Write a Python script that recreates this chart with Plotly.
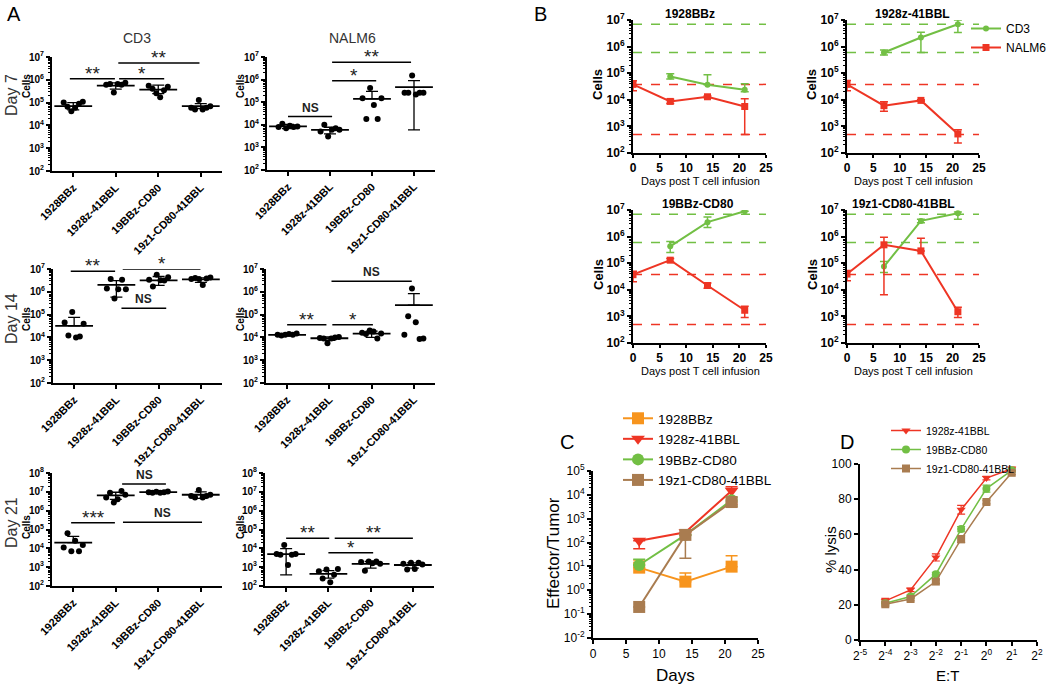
import numpy as np
import plotly.graph_objects as go

W, H = 1050, 689
FONT = "Liberation Sans, Arial, Helvetica, sans-serif"

# ======================= DATA =======================
groups = ["1928BBz", "1928z-41BBL", "19BBz-CD80", "19z1-CD80-41BBL"]

# ---- Panel A: cells per mouse, group mean, SD upper / lower end (None = not drawn)
cd3_d7_pts = [[1.0e5, 6.5e4, 4.2e4, 6.0e4, 9.0e4, 1.1e5],
              [6.0e5, 6.5e5, 2.8e5, 6.5e5, 6.0e5, 7.5e5],
              [5.5e5, 4.0e5, 2.6e5, 1.7e5, 3.5e5, 5.0e5],
              [6.0e4, 5.0e4, 1.3e5, 5.0e4, 6.0e4, 7.0e4]]
cd3_d7_mean = [7.0e4, 5.5e5, 3.7e5, 7.0e4]
cd3_d7_hi = [1.0e5, 7.3e5, 5.8e5, 9.0e4]
cd3_d7_lo = [4.8e4, 3.9e5, 2.5e5, 5.5e4]

nalm6_d7_pts = [[8.0e3, 1.1e4, 7.0e3, 9.0e3, 8.0e3, 8.5e3],
                [5.0e3, 1.0e4, 3.0e3, 6.0e3, 7.0e3, 6.0e3],
                [1.5e5, 1.8e4, 4.2e5, 7.6e4, 1.8e4, 1.5e5],
                [2.6e5, 2.6e5, 1.5e6, 2.2e5, 2.6e5, 2.6e5]]
nalm6_d7_mean = [8.5e3, 6.0e3, 1.4e5, 4.6e5]
nalm6_d7_hi = [1.05e4, 7.8e3, 3.0e5, 9.0e5]
nalm6_d7_lo = [6.8e3, 4.0e3, None, 6.0e3]

cd3_d14_pts = [[4.5e4, 1.2e4, 1.3e5, 1.0e4, 1.1e4, 4.0e4],
               [1.4e6, 3.6e6, 5.1e5, 1.3e6, 3.4e6, 1.3e6],
               [3.4e6, 1.7e6, 5.6e6, 3.2e6, 3.1e6, 4.4e6],
               [3.6e6, 4.0e6, 3.6e6, 2.0e6, 3.8e6, 4.2e6]]
cd3_d14_mean = [3.2e4, 2.0e6, 3.2e6, 3.5e6]
cd3_d14_hi = [7.6e4, 3.1e6, 4.7e6, 4.1e6]
cd3_d14_lo = [None, 5.8e5, 1.9e6, 2.6e6]

nalm6_d14_pts = [[1.3e4, 1.2e4, 1.3e4, 1.4e4, 1.3e4, 1.5e4],
                 [9.5e3, 9.0e3, 5.6e3, 9.0e3, 1.0e4, 1.05e4],
                 [1.6e4, 1.4e4, 2.0e4, 1.8e4, 9.0e3, 1.5e4],
                 [1.3e4, 8.5e4, 1.4e6, 4.6e4, 8.5e3, 9.0e3]]
nalm6_d14_mean = [1.3e4, 9.2e3, 1.45e4, 2.6e5]
nalm6_d14_hi = [1.4e4, 1.05e4, 1.9e4, 8.3e5]
nalm6_d14_lo = [1.2e4, 7.5e3, 1.0e4, None]

cd3_d21_pts = [[1.1e4, 6.3e4, 7.0e3, 2.5e4, 7.0e3, 1.5e4],
               [5.0e6, 9.0e6, 2.7e6, 4.0e6, 1.1e7, 7.0e6],
               [9.5e6, 9.0e6, 1.0e7, 9.0e6, 9.5e6, 1.05e7],
               [6.0e6, 5.0e6, 1.25e7, 5.0e6, 6.0e6, 7.0e6]]
cd3_d21_mean = [2.0e4, 6.5e6, 9.7e6, 7.0e6]
cd3_d21_hi = [4.3e4, 9.5e6, 1.05e7, 1.0e7]
cd3_d21_lo = [None, 4.0e6, 9.0e6, 4.5e6]

nalm6_d21_pts = [[5.0e3, 4.5e3, 1.5e4, 1.3e3, 4.5e3, 5.0e3],
                 [6.0e2, 2.5e2, 7.5e2, 1.6e2, 4.0e2, 8.0e2],
                 [1.9e3, 6.5e2, 2.0e3, 1.6e3, 2.0e3, 1.5e3],
                 [1.5e3, 7.5e2, 1.7e3, 8.0e2, 1.7e3, 1.4e3]]
nalm6_d21_mean = [4.9e3, 4.4e2, 1.5e3, 1.3e3]
nalm6_d21_hi = [9.6e3, 6.5e2, 2.0e3, 1.7e3]
nalm6_d21_lo = [3.9e2, 2.6e2, 9.0e2, 9.0e2]

# significance brackets: (from group, to group, height in cells, label)
sig_cd3_d7 = [(-0.08, 0.98, 1.1e6, "**"), (1.08, 2.14, 1.1e6, "*"), (1.06, 2.97, 5.5e6, "**")]
sig_nalm6_d7 = [(0.0, 1.05, 2.3e4, "NS"), (1.05, 2.1, 8.9e5, "*"), (1.05, 2.93, 5.8e6, "**")]
sig_cd3_d14 = [(-0.08, 0.97, 7.9e6, "**"), (1.15, 2.99, 1.0e7, "*"), (1.12, 2.18, 1.9e5, "NS")]
sig_nalm6_d14 = [(0.0, 0.93, 3.6e4, "**"), (1.07, 2.03, 3.6e4, "*"), (1.05, 2.95, 2.9e6, "NS")]
sig_cd3_d21 = [(-0.05, 0.98, 2.3e5, "***"), (1.15, 2.18, 2.6e7, "NS"), (1.17, 3.03, 2.4e5, "NS")]
sig_nalm6_d21 = [(0.0, 1.02, 3.4e4, "**"), (1.0, 2.06, 5.9e3, "*"), (1.15, 3.0, 3.4e4, "**")]

# ---- Panel B: kinetics
days_b = [0, 7, 14, 21]
days_b_cd3 = [7, 14, 21]
b_titles = ["1928BBz", "1928z-41BBL", "19BBz-CD80", "19z1-CD80-41BBL"]
b_cd3 = [[7.5e4, 3.7e4, 2.4e4], [6.0e5, 2.2e6, 6.9e6], [4.3e5, 3.5e6, 9.0e6], [7.5e4, 3.9e6, 7.5e6]]
b_cd3_hi = [[9.5e4, 8.7e4, 4.0e4], [7.5e5, 3.5e6, 1.0e7], [6.5e5, 5.5e6, 9.0e6], [1.15e5, 4.5e6, 8.5e6]]
b_cd3_lo = [[6.0e4, 3.7e4, 2.0e4], [4.8e5, 6.0e5, 3.4e6], [2.5e5, 2.2e6, 9.0e6], [4.5e4, 3.3e6, 4.5e6]]
b_nalm6 = [[3.8e4, 8.7e3, 1.3e4, 5.6e3], [3.8e4, 6.0e3, 9.5e3, 5.2e2],
           [3.7e4, 1.3e5, 1.45e4, 1.7e3], [3.9e4, 4.9e5, 2.9e5, 1.5e3]]
b_nalm6_hi = [[5.2e4, 1.05e4, 1.4e4, 1.1e4], [5.3e4, 8.5e3, 1.0e4, 7.5e2],
              [5.0e4, 1.5e5, 1.8e4, 2.4e3], [5.3e4, 9.5e5, 8.7e5, 2.2e3]]
b_nalm6_lo = [[2.2e4, 7.2e3, 1.2e4, 5.0e2], [2.2e4, 3.7e3, 8.8e3, 2.4e2],
              [2.0e4, 1.1e5, 1.15e4, 9.0e2], [2.2e4, 6.5e3, 2.9e5, 9.0e2]]
ref_cd3 = [6.9e6, 6.0e5]
ref_nalm6 = [3.8e4, 5.0e2]

# ---- Panel C: effector / tumor ratio
days_c = [7, 14, 21]
c_series = ["1928BBz", "1928z-41BBL", "19BBz-CD80", "19z1-CD80-41BBL"]
c_vals = [[8.9, 2.3, 9.8], [120, 270, 1.5e4], [11.5, 210, 6.0e3], [0.2, 210, 5.0e3]]
c_hi = [[18.6, 5.3, 28], [120, 270, 2.2e4], [20, 210, 8.0e3], [0.2, 210, 5.0e3]]
c_lo = [[8.9, 2.3, 9.8], [55, 270, 4.0e3], [11.5, 210, 3.5e3], [0.2, 22, 3.2e3]]

# ---- Panel D: % lysis vs E:T
et_ratio = [1/16, 1/8, 1/4, 1/2, 1, 2]
d_series = ["1928z-41BBL", "19BBz-CD80", "19z1-CD80-41BBL"]
d_vals = [[22.2, 28.5, 46.9, 74.0, 92.0, 97.3],
          [20.9, 24.7, 37.4, 63.0, 86.0, 96.4],
          [20.3, 23.3, 33.2, 57.3, 78.4, 95.0]]
d_err = [[1.5, 1.0, 2.0, 2.5, 1.0, 1.0],
         [1.0, 1.0, 1.0, 1.5, 2.0, 1.0],
         [1.0, 1.0, 1.0, 2.0, 1.0, 1.0]]

# ======================= STYLE =======================
GREEN = "#72BF44"
RED = "#EE3524"
ORANGE = "#F7941D"
BROWN = "#A97C50"
c_colors = [ORANGE, RED, GREEN, BROWN]
c_symbols = ["square", "triangle-down", "circle", "square"]
d_colors = [RED, GREEN, BROWN]
d_symbols = ["triangle-down", "circle", "square"]

fig = go.Figure()
layout = dict(width=W, height=H, margin=dict(l=0, r=0, t=0, b=0, pad=0, autoexpand=False),
              paper_bgcolor="white", plot_bgcolor="white",
              font=dict(family=FONT, color="black"), annotations=[])


def px(x):
    return x / W


def py(y):
    return 1 - y / H


def names(n):
    return ("x", "y") if n == 1 else (f"x{n}", f"y{n}")


def keys(n):
    return ("xaxis", "yaxis") if n == 1 else (f"xaxis{n}", f"yaxis{n}")


def dom(box):
    l, t, r, b = box
    return [px(l), px(r)], [py(b), py(t)]


base_axis = dict(showline=True, linecolor="black", linewidth=2, ticks="outside",
                 tickcolor="black", tickwidth=1.5, ticklen=4, showgrid=False,
                 zeroline=False)


def log_axis(lo, hi, size, bold=True):
    return dict(type="log", range=[lo, hi],
                tickvals=[10.0 ** e for e in range(lo, hi + 1)],
                ticktext=[f"10<sup>{e}</sup>" for e in range(lo, hi + 1)],
                tickfont=dict(size=size, weight="bold" if bold else "normal"),
                minor=dict(tickvals=[m * 10.0 ** e for e in range(lo, hi) for m in range(2, 10)],
                           ticks="outside", ticklen=2, tickcolor="black", tickwidth=1),
                **base_axis)


def setup(n, box, xa, ya):
    xd, yd = dom(box)
    xn, yn = names(n)
    xk, yk = keys(n)
    layout[xk] = dict(domain=xd, anchor=yn, **xa)
    layout[yk] = dict(domain=yd, anchor=xn, **ya)


def paper_text(x, y, text, size, angle=0, weight="normal", color="black"):
    layout["annotations"].append(dict(x=px(x), y=py(y), xref="paper", yref="paper",
                                      text=text, showarrow=False, textangle=angle,
                                      font=dict(size=size, weight=weight, color=color),
                                      xanchor="center", yanchor="middle"))


# ======================= PANEL A =======================
panelA = [
    (cd3_d7_pts, cd3_d7_mean, cd3_d7_hi, cd3_d7_lo, sig_cd3_d7, 7),
    (nalm6_d7_pts, nalm6_d7_mean, nalm6_d7_hi, nalm6_d7_lo, sig_nalm6_d7, 7),
    (cd3_d14_pts, cd3_d14_mean, cd3_d14_hi, cd3_d14_lo, sig_cd3_d14, 7),
    (nalm6_d14_pts, nalm6_d14_mean, nalm6_d14_hi, nalm6_d14_lo, sig_nalm6_d14, 7),
    (cd3_d21_pts, cd3_d21_mean, cd3_d21_hi, cd3_d21_lo, sig_cd3_d21, 8),
    (nalm6_d21_pts, nalm6_d21_mean, nalm6_d21_hi, nalm6_d21_lo, sig_nalm6_d21, 8),
]
boxesA = [(52, 57, 222, 171), (267, 57, 435, 170), (53, 269, 222, 383),
          (266, 269, 435, 383), (52, 473, 222, 586), (265, 473, 434, 586)]

for k, (pts, mean, hi, lo, sig, top) in enumerate(panelA):
    n = k + 1
    xn, yn = names(n)
    xa = dict(range=[-0.5, 3.5], tickvals=list(range(len(groups))), ticktext=groups,
              tickangle=-45, tickfont=dict(size=11, weight="bold"), **base_axis)
    setup(n, boxesA[k], xa, log_axis(2, top, 10))
    xs, ys = [], []
    for g, vals in enumerate(pts):
        off = (np.arange(len(vals)) - (len(vals) - 1) / 2) * 0.09
        xs += list(g + off)
        ys += vals
    fig.add_trace(go.Scatter(x=xs, y=ys, mode="markers", xaxis=xn, yaxis=yn,
                             marker=dict(color="black", size=6), showlegend=False))
    plus = [(h - m) if h is not None else 0 for h, m in zip(hi, mean)]
    minus = [(m - l) if l is not None else 0 for l, m in zip(lo, mean)]
    fig.add_trace(go.Scatter(x=list(range(len(groups))), y=mean, mode="markers",
                             xaxis=xn, yaxis=yn, showlegend=False,
                             marker=dict(symbol="line-ew", size=27, color="black",
                                         line=dict(width=1.8, color="black")),
                             error_y=dict(type="data", symmetric=False, array=plus,
                                          arrayminus=minus, color="black",
                                          thickness=1.3, width=6)))
    for a, b, yv, lab in sig:
        fig.add_trace(go.Scatter(x=[a, b], y=[yv, yv], mode="lines", xaxis=xn, yaxis=yn,
                                 line=dict(color="black", width=1.5), showlegend=False))
        star = "*" in lab
        layout["annotations"].append(dict(
            x=(a + b) / 2, y=float(np.log10(yv)), xref=xn, yref=yn, text=lab,
            showarrow=False, yanchor="bottom", yshift=-7 if star else 0,
            font=dict(size=19 if star else 12, weight="bold" if not star else "normal",
                      color="#222")))

paper_text(14, 14, "A", 20)
paper_text(137, 38, "CD3", 14, color="#333")
paper_text(352, 38, "NALM6", 14, color="#333")
for ylab, txt in [(95, "Day 7"), (319, "Day 14"), (523, "Day 21")]:
    paper_text(11, ylab, txt, 16, angle=-90, color="#333")
for ycell in [86, 319, 527]:
    paper_text(26, ycell, "Cells", 10, angle=-90, weight="bold")
    paper_text(240, ycell, "Cells", 10, angle=-90, weight="bold")

# ======================= PANEL B =======================
boxesB = [(633, 20, 766, 153), (847, 20, 979, 153), (633, 210, 766, 343), (847, 210, 979, 343)]
for k in range(4):
    n = 7 + k
    xn, yn = names(n)
    xa = dict(range=[0, 25], tickvals=[0, 5, 10, 15, 20, 25],
              tickfont=dict(size=12, weight="bold"),
              **{**base_axis, "ticklen": 3})
    setup(n, boxesB[k], xa, log_axis(2, 7, 12))
    for v in ref_cd3:
        fig.add_trace(go.Scatter(x=[0, 25], y=[v, v], mode="lines", xaxis=xn, yaxis=yn,
                                 line=dict(color=GREEN, width=1.5, dash="dash"), showlegend=False))
    for v in ref_nalm6:
        fig.add_trace(go.Scatter(x=[0, 25], y=[v, v], mode="lines", xaxis=xn, yaxis=yn,
                                 line=dict(color=RED, width=1.5, dash="dash"), showlegend=False))
    fig.add_trace(go.Scatter(
        x=days_b_cd3, y=b_cd3[k], mode="lines+markers", name="CD3", xaxis=xn, yaxis=yn,
        line=dict(color=GREEN, width=2), marker=dict(symbol="circle", size=6, color=GREEN),
        error_y=dict(type="data", symmetric=False,
                     array=[h - m for h, m in zip(b_cd3_hi[k], b_cd3[k])],
                     arrayminus=[m - l for l, m in zip(b_cd3_lo[k], b_cd3[k])],
                     color=GREEN, thickness=1.5, width=4),
        showlegend=(k == 1), legend="legend"))
    fig.add_trace(go.Scatter(
        x=days_b, y=b_nalm6[k], mode="lines+markers", name="NALM6", xaxis=xn, yaxis=yn,
        line=dict(color=RED, width=2), marker=dict(symbol="square", size=7, color=RED),
        error_y=dict(type="data", symmetric=False,
                     array=[h - m for h, m in zip(b_nalm6_hi[k], b_nalm6[k])],
                     arrayminus=[m - l for l, m in zip(b_nalm6_lo[k], b_nalm6[k])],
                     color=RED, thickness=1.5, width=4),
        showlegend=(k == 1), legend="legend"))

paper_text(540, 14, "B", 20)
for (tx, ty), t in zip([(690, 14), (912, 14), (698, 204), (903, 204)], b_titles):
    paper_text(tx, ty, t, 12, weight="bold")
for cx, cy in [(598, 85), (812, 85), (598, 275), (812, 275)]:
    paper_text(cx, cy, "Cells", 13, angle=-90, weight="bold")
for cx, cy in [(700, 181), (913, 181), (700, 371), (913, 371)]:
    paper_text(cx, cy, "Days post T cell infusion", 11)

# ======================= PANEL C =======================
xn, yn = names(11)
setup(11, (593, 471, 758, 638),
      dict(range=[0, 25], tickvals=[0, 5, 10, 15, 20, 25], tickfont=dict(size=12), **base_axis),
      log_axis(-2, 5, 12, bold=False))
for i, s in enumerate(c_series):
    fig.add_trace(go.Scatter(
        x=days_c, y=c_vals[i], mode="lines+markers", name=s, xaxis=xn, yaxis=yn,
        line=dict(color=c_colors[i], width=2),
        marker=dict(symbol=c_symbols[i], size=12, color=c_colors[i]),
        error_y=dict(type="data", symmetric=False,
                     array=[h - m for h, m in zip(c_hi[i], c_vals[i])],
                     arrayminus=[m - l for l, m in zip(c_lo[i], c_vals[i])],
                     color=c_colors[i], thickness=1.5, width=6),
        legend="legend2"))
paper_text(567, 442, "C", 20)
paper_text(553, 553, "Effector/Tumor", 17, angle=-90)
paper_text(675, 675, "Days", 17)

# ======================= PANEL D =======================
xn, yn = names(12)
xpos = [float(np.log2(v)) for v in et_ratio]
setup(12, (860, 464, 1037, 640),
      dict(range=[-5, 2], tickvals=list(range(-5, 3)),
           ticktext=[f"2<sup>{e}</sup>" for e in range(-5, 3)], tickfont=dict(size=12),
           **base_axis),
      dict(range=[0, 100], tickvals=[0, 20, 40, 60, 80, 100], tickfont=dict(size=12),
           **base_axis))
for i, s in enumerate(d_series):
    fig.add_trace(go.Scatter(
        x=xpos, y=d_vals[i], mode="lines+markers", name=s, xaxis=xn, yaxis=yn,
        line=dict(color=d_colors[i], width=1.5),
        marker=dict(symbol=d_symbols[i], size=8, color=d_colors[i]),
        error_y=dict(type="data", array=d_err[i], color=d_colors[i], thickness=1.2, width=4),
        legend="legend3"))
paper_text(847, 442, "D", 20)
paper_text(830, 550, "% lysis", 15, angle=-90)
paper_text(947, 675, "E:T", 15)

# ======================= LEGENDS =======================
layout["legend"] = dict(x=px(966), y=py(14), xanchor="left", yanchor="top",
                        font=dict(size=12), bgcolor="rgba(0,0,0,0)", itemwidth=30,
                        tracegroupgap=0)
layout["legend2"] = dict(x=px(618), y=py(403), xanchor="left", yanchor="top",
                         font=dict(size=13.5), bgcolor="rgba(0,0,0,0)", itemwidth=30)
layout["legend3"] = dict(x=px(886), y=py(416), xanchor="left", yanchor="top",
                         font=dict(size=10.5), bgcolor="rgba(0,0,0,0)", itemwidth=30)

fig.update_layout(**layout)
# the page's default 8px body margin would push the figure off the window's origin
fig.write_html("out.html",
               config={"displayModeBar": False},
               post_script="document.body.style.margin='0px';"
                           "document.body.style.overflow='hidden';")
